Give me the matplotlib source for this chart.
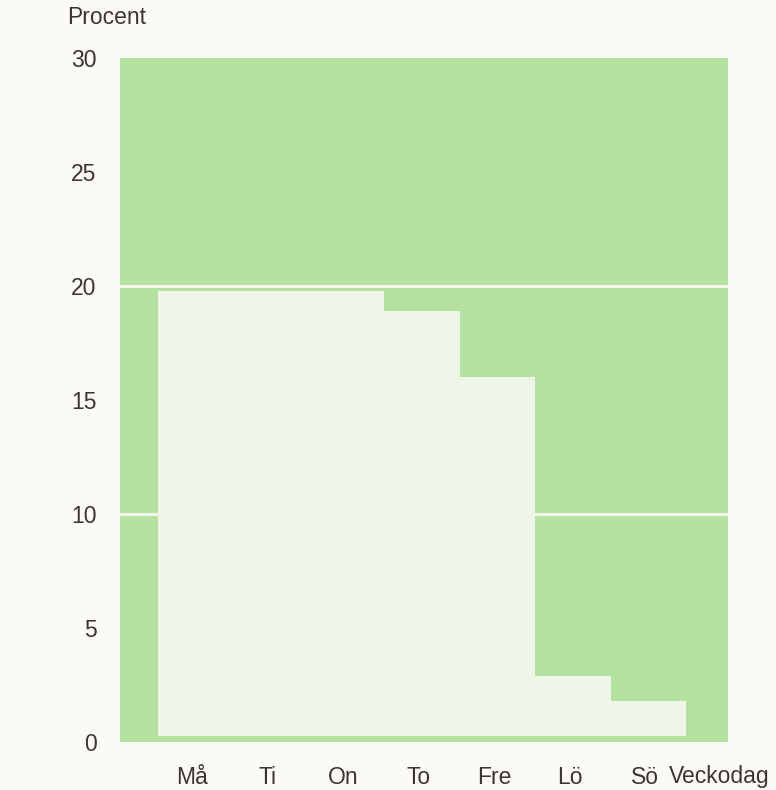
import matplotlib
matplotlib.use('Agg')
import matplotlib.pyplot as plt
from matplotlib.patches import Rectangle

DAYS = ['Må', 'Ti', 'On', 'To', 'Fre', 'Lö', 'Sö']
VALUES = [19.8, 19.8, 19.8, 18.9, 16.0, 2.9, 1.8]
Y_TICKS = [0, 5, 10, 15, 20, 25, 30]
GRID_LINES = [10, 20]

GREEN = '#b5e1a1'
LIGHT = '#eff5e8'
PAPER = '#fbfaf5'
INK = '#3b3636'

plt.rcParams['font.family'] = ['Liberation Sans', 'DejaVu Sans']
FS = 16.5

W, H = 776, 790
fig = plt.figure(figsize=(W / 100, H / 100), dpi=100, facecolor=PAPER)
ax = fig.add_axes([120 / W, 1 - 742 / H, (728 - 120) / W, (742 - 58) / H])
ax.set_facecolor(PAPER)
x0, x1 = -0.5, 7.55
ax.set_xlim(x0, x1)
ax.set_ylim(0, 30)

# green frame, white rules, then the light bars on top
ax.add_patch(Rectangle((x0, 0), x1 - x0, 30, color=GREEN, lw=0, zorder=1))
for g in GRID_LINES:
  ax.axhline(g, color='#f3f6ec', lw=2.2, zorder=2)
base = 0.25
ax.bar(range(len(DAYS)), [v - base for v in VALUES], bottom=base, width=1.0,
       align='edge', color=LIGHT, lw=0, zorder=3)

for s in ax.spines.values():
  s.set_visible(False)
ax.set_yticks(Y_TICKS)
ax.set_yticklabels([str(t) for t in Y_TICKS])
ax.set_xticks([i + 0.45 for i in range(len(DAYS))])
ax.set_xticklabels(DAYS)
ax.tick_params(length=0, labelsize=FS, labelcolor=INK)
ax.tick_params(axis='y', pad=17)
ax.tick_params(axis='x', pad=17)

fig.text(67 / W, 1 - 18 / H, 'Procent', fontsize=FS, color=INK,
         ha='left', va='center')
fig.text(669 / W, 1 - 776 / H, 'Veckodag', fontsize=FS, color=INK,
         ha='left', va='center')

fig.savefig('out.png', dpi=100, facecolor=PAPER)
